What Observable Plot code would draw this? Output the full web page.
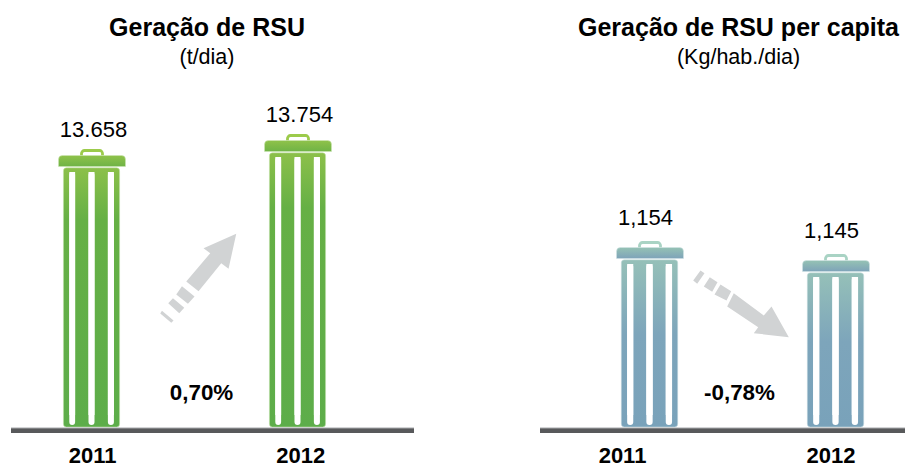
<!DOCTYPE html>
<html lang="pt-BR">
<head>
<meta charset="utf-8">
<script src="https://cdn.jsdelivr.net/npm/d3@7"></script>
<script src="https://cdn.jsdelivr.net/npm/@observablehq/plot@0.6"></script>
<style>
  html, body { margin: 0; padding: 0; background: #fff; overflow: hidden; }
  #chart { display: flex; width: 905px; height: 466px; }
  #chart svg { display: block; flex: none; }
</style>
</head>
<body>
<div id="chart"></div>
<script>
const years = ["2011", "2012"];
const geracao = [13658, 13754];
const geracaoLabels = ["13.658", "13.754"];
const perCapita = [1.154, 1.145];
const perCapitaLabels = ["1,154", "1,145"];

const FONT = "'Liberation Sans', Helvetica, Arial, sans-serif";
const MID = "\u00a0";

function polygon(ctx, pts) {
  pts.forEach(([x, y], i) => (i ? ctx.lineTo(x, y) : ctx.moveTo(x, y)));
  ctx.closePath();
}
const arrowSymbol = (polys, ox, oy) => ({
  draw(ctx) {
    for (const p of polys) polygon(ctx, p.map(([x, y]) => [x - ox, y - oy]));
  }
});
const lidSymbol = {
  draw(ctx) {
    const w = 33.5, h = 11, r = 4;
    ctx.moveTo(-w, h);
    ctx.lineTo(-w, r);
    ctx.arcTo(-w, 0, -w + r, 0, r);
    ctx.lineTo(w - r, 0);
    ctx.arcTo(w, 0, w, r, r);
    ctx.lineTo(w, h);
    ctx.closePath();
  }
};
const handleSymbol = {
  draw(ctx) {
    const w = 10.5, t = -5, r = 3;
    ctx.moveTo(-w, 0);
    ctx.lineTo(-w, t + r);
    ctx.arcTo(-w, t, -w + r, t, r);
    ctx.lineTo(w - r, t);
    ctx.arcTo(w, t, w, t + r, r);
    ctx.lineTo(w, 0);
  }
};

const arrowUp = [
  [[236,233.3],[228.3,268.3],[221,262.7],[198.3,290.7],[186,281],[210,252.7],[203.3,247.7]],
  [[181.7,285.7],[194.3,296],[187.7,303.3],[176,294]],
  [[172.7,297.7],[184,307.3],[179,312.7],[168,302.7]],
  [[161.7,310.3],[173.3,320],[171,322.3],[160,313]]
];
const arrowDown = [
  [[788.3,336.7],[753.3,332.7],[757.7,326.7],[726.7,306],[733.3,292.7],[763.3,315],[771,306]],
  [[720,284],[730.7,290.7],[726,300],[714,294]],
  [[709.3,276.7],[717,281.7],[711.7,291.3],[703.3,286]],
  [[700,270],[704,272.7],[696.7,283.3],[692.7,280]]
];

function panel(o) {
  const rows = years.map((year, i) => ({year, value: o.values[i], label: o.labels[i]}));
  const step = (o.range[1] - o.range[0]) / 3;
  const ins = (a, b) => ({insetLeft: step / 2 + a, insetRight: step / 2 - b});
  const base = o.domain[0];
  const slots = [[-22.6, -16], [-3.4, 3.4], [16, 22.8]];
  const slotMarks = slots.flatMap(([a, b]) => [
    Plot.barY(rows, {x: "year", y1: () => base, y2: "value", fill: "#fff", rx: 3, insetTop: 17, insetBottom: 2, ...ins(a, b)}),
    Plot.barY(rows, {x: "year", y1: () => base, y2: "value", fill: "#fff", insetTop: 17, insetBottom: 12, ...ins(a, b)})
  ]);
  const chart = Plot.plot({
    width: o.width, height: 466,
    marginTop: 0, marginBottom: 39, marginLeft: o.marginLeft, marginRight: o.marginRight,
    style: {fontFamily: FONT, background: "#fff", color: "#000", overflow: "visible"},
    x: {type: "band", domain: [years[0], MID, years[1]], range: o.range, padding: 0, align: 0.5, axis: null, label: null},
    y: {domain: o.domain, range: [427, o.top], axis: null, label: null},
    marks: [
      Plot.text([o.title], {frameAnchor: "top", text: d => d, x: () => MID, dx: o.titleDx, dy: 17.5, fontSize: 25, fontWeight: "bold", lineAnchor: "top"}),
      Plot.text([o.subtitle], {frameAnchor: "top", text: d => d, x: () => MID, dx: o.titleDx, dy: 48, fontSize: 21.5, lineAnchor: "top"}),
      Plot.barY(rows, {x: "year", y1: () => base, y2: "value", fill: `url(#body-${o.id})`, stroke: o.edge, strokeWidth: 0.5, rx: 3, insetTop: 12.8, ...ins(-28.5, 28.5)}),
      ...slotMarks,
      Plot.dot(rows, {x: "year", y: "value", r: 1, symbol: handleSymbol, fill: "#fff", stroke: o.handle, strokeWidth: 2.8}),
      Plot.dot(rows, {x: "year", y: "value", r: 1, symbol: lidSymbol, fill: `url(#lid-${o.id})`, stroke: o.edge, strokeWidth: 0.5}),
      Plot.ruleY([base], {stroke: "#58595b", strokeWidth: 5, dy: 3}),
      Plot.ruleY([base], {stroke: "#a7a9ac", strokeWidth: 1, dy: 0.5}),
      Plot.dot([MID], {x: d => d, r: 1, symbol: arrowSymbol(o.arrow, o.anchor, 213.5), fill: "#d1d3d4", stroke: null}),
      Plot.text(rows, {x: "year", y: "value", text: "label", dx: o.labelDx, dy: o.labelDy, fontSize: 22}),
      Plot.text([o.change], {x: () => MID, text: d => d, frameAnchor: "middle", dx: o.changeDx, dy: 178.5, fontSize: 22.4, fontWeight: "bold"}),
      ...years.map((year, i) => Plot.axisX({ticks: [year], dx: o.yearDx[i], tickSize: 0, tickPadding: 20, fontSize: 22, fontWeight: "bold", label: null}))
    ]
  });
  const defs = d3.select(chart).append("defs");
  const grad = (id, stops) => {
    const g = defs.append("linearGradient").attr("id", id).attr("x1", 0).attr("y1", 0).attr("x2", 0).attr("y2", 1);
    stops.forEach(([offset, color]) => g.append("stop").attr("offset", offset).attr("stop-color", color));
  };
  grad(`body-${o.id}`, o.bodyStops);
  grad(`lid-${o.id}`, o.lidStops);
  return chart;
}

const host = document.getElementById("chart");
host.append(panel({
  id: "g", width: 452, marginLeft: 11, marginRight: 38, range: [39.1, 350.4],
  values: geracao, labels: geracaoLabels, domain: [11917, 13754], top: 140,
  title: "Geração de RSU", subtitle: "(t/dia)", titleDx: 12, labelDx: 1.5, labelDy: -26, yearDx: [0.7, 2.8],
  change: "0,70%", changeDx: 6.5, arrow: arrowUp, anchor: 194.75,
  edge: "#cfe6b8", handle: "#9ccb4b",
  bodyStops: [[0, "#8cc04a"], [0.2, "#66b045"], [1, "#5dad4a"]],
  lidStops: [[0, "#8fc24a"], [1, "#6fb346"]]
}));
host.append(panel({
  id: "p", width: 453, marginLeft: 88, marginRight: 0, range: [150.25, 430.75],
  values: perCapita, labels: perCapitaLabels, domain: [1.0294, 1.145], top: 260,
  title: "Geração de RSU per capita", subtitle: "(Kg/hab./dia)", titleDx: -4.5, labelDx: -4.5, labelDy: -30, yearDx: [-27.5, -5],
  change: "-0,78%", changeDx: -3.5, arrow: arrowDown.map(p => p.map(([x, y]) => [x - 452, y])), anchor: 290.5,
  edge: "#d3e4e6", handle: "#a9d3c4",
  bodyStops: [[0, "#95c0b8"], [0.45, "#7da5bb"], [1, "#79a2ba"]],
  lidStops: [[0, "#95c2b4"], [1, "#7ea3b9"]]
}));
</script>
</body>
</html>
